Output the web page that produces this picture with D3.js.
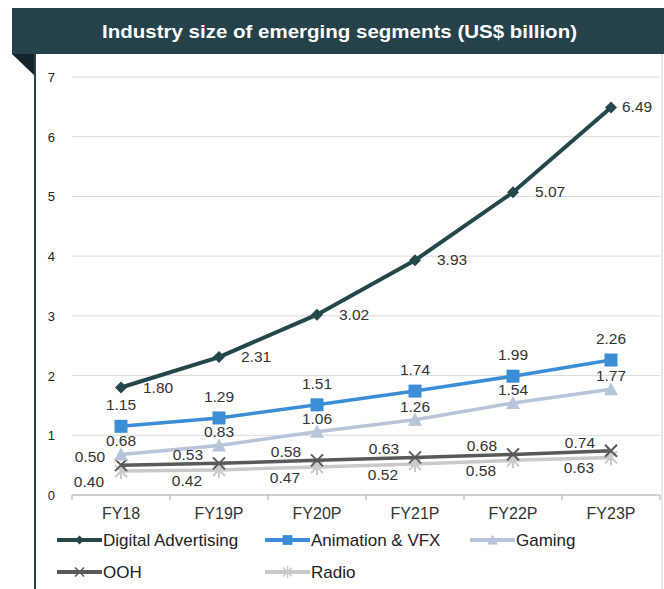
<!DOCTYPE html>
<html>
<head>
<meta charset="utf-8">
<script src="https://cdn.jsdelivr.net/npm/d3@7"></script>
<style>
  body { margin: 0; background: #fff; }
  svg { display: block; font-family: Arial, "Liberation Sans", sans-serif; }
</style>
</head>
<body>
<svg id="chart" width="664" height="589"></svg>
<script>
'use strict';

// Chart data
const years = ['FY18', 'FY19P', 'FY20P', 'FY21P', 'FY22P', 'FY23P'];
const digitalAdvertising = [1.80, 2.31, 3.02, 3.93, 5.07, 6.49];
const animationVfx = [1.15, 1.29, 1.51, 1.74, 1.99, 2.26];
const gaming = [0.68, 0.83, 1.06, 1.26, 1.54, 1.77];
const ooh = [0.50, 0.53, 0.58, 0.63, 0.68, 0.74];
const radio = [0.40, 0.42, 0.47, 0.52, 0.58, 0.63];
const yTicks = [0, 1, 2, 3, 4, 5, 6, 7];

const series = [
    { name: 'Radio', values: radio, color: '#c9c9c9', marker: 'star', label: 'leftBelow' },
    { name: 'OOH', values: ooh, color: '#595959', marker: 'cross', label: 'leftAbove' },
    { name: 'Gaming', values: gaming, color: '#b7c4d9', marker: 'triangle', label: 'above' },
    { name: 'Animation & VFX', values: animationVfx, color: '#3b8ed6', marker: 'square', label: 'aboveHigh' },
    { name: 'Digital Advertising', values: digitalAdvertising, color: '#24474b', marker: 'diamond', label: 'right' }
];

const svg = d3.select('#chart');

// Title band with folded corner
svg.append('rect')
    .attr('x', 12).attr('y', 8).attr('width', 652).attr('height', 46)
    .attr('fill', '#25414a');
svg.append('path')
    .attr('d', 'M12,54 L35,54 L35,76 Z')
    .attr('fill', '#13242a');
svg.append('text')
    .attr('x', 102).attr('y', 38)
    .attr('fill', '#fff')
    .attr('font-weight', 'bold')
    .attr('font-size', 18)
    .attr('textLength', 475)
    .attr('lengthAdjust', 'spacingAndGlyphs')
    .text('Industry size of emerging segments (US$ billion)');

// Panel border
svg.append('line')
    .attr('x1', 35).attr('x2', 35).attr('y1', 54).attr('y2', 589)
    .attr('stroke', '#2f4149').attr('stroke-width', 2);
svg.append('line')
    .attr('x1', 662).attr('x2', 662).attr('y1', 54).attr('y2', 589)
    .attr('stroke', '#d0d0d0').attr('stroke-width', 1);

// Scales
const x = d3.scaleBand().domain(years).range([72, 660]).padding(0);
const y = d3.scaleLinear().domain([0, 7]).range([495, 77]);
const cx = d => x(d) + x.bandwidth() / 2;

// Gridlines
svg.append('g')
    .selectAll('line')
    .data(yTicks.filter(t => t > 0))
    .join('line')
    .attr('x1', 72).attr('x2', 660)
    .attr('y1', d => y(d)).attr('y2', d => y(d))
    .attr('stroke', '#dadada').attr('stroke-width', 1);

// Y axis labels
svg.append('g')
    .selectAll('text')
    .data(yTicks)
    .join('text')
    .attr('x', 55).attr('y', d => y(d) + 5)
    .attr('text-anchor', 'end')
    .attr('font-size', 13)
    .attr('fill', '#222')
    .text(d => d);

// X axis
const xAxis = svg.append('g');
xAxis.append('line')
    .attr('x1', 72).attr('x2', 660).attr('y1', 495).attr('y2', 495)
    .attr('stroke', '#a6a6a6').attr('stroke-width', 1);
xAxis.selectAll('line.tick')
    .data(years.map(d => x(d)).concat([x.range()[1]]))
    .join('line')
    .attr('class', 'tick')
    .attr('x1', d => d).attr('x2', d => d)
    .attr('y1', 495).attr('y2', 500)
    .attr('stroke', '#a6a6a6');
xAxis.selectAll('text')
    .data(years)
    .join('text')
    .attr('x', d => cx(d)).attr('y', 519)
    .attr('text-anchor', 'middle')
    .attr('font-size', 16)
    .attr('fill', '#333')
    .text(d => d);

// Marker drawing
function drawMarker(g, type, color) {
    if (type === 'diamond') {
        g.append('path').attr('d', 'M0,-6 L6,0 L0,6 L-6,0 Z').attr('fill', color);
    } else if (type === 'square') {
        g.append('rect').attr('x', -6.5).attr('y', -6.5).attr('width', 13).attr('height', 13).attr('fill', color);
    } else if (type === 'triangle') {
        g.append('path').attr('d', 'M0,-7 L7,6 L-7,6 Z').attr('fill', color);
    } else if (type === 'cross') {
        g.append('path').attr('d', 'M-6,-6 L6,6 M-6,6 L6,-6')
            .attr('stroke', color).attr('stroke-width', 2);
    } else if (type === 'star') {
        g.append('path').attr('d', 'M-6,-6 L6,6 M-6,6 L6,-6 M0,-8 L0,8')
            .attr('stroke', color).attr('stroke-width', 2);
    }
}

const line = d3.line()
    .x((d, i) => cx(years[i]))
    .y(d => y(d));

series.forEach(s => {
    const g = svg.append('g');
    g.append('path')
        .datum(s.values)
        .attr('d', line)
        .attr('fill', 'none')
        .attr('stroke', s.color)
        .attr('stroke-width', s.marker === 'diamond' ? 4 : 3.5);

    s.values.forEach((v, i) => {
        const m = g.append('g').attr('transform', `translate(${cx(years[i])},${y(v)})`);
        drawMarker(m, s.marker, s.color);
    });
});

// Value labels
series.forEach(s => {
    s.values.forEach((v, i) => {
        const px = cx(years[i]);
        const py = y(v);
        let tx = px, ty = py, anchor = 'middle';
        if (s.label === 'right') {
            tx = px + (i === s.values.length - 1 ? 11 : 22);
            ty = py + 5;
            anchor = 'start';
        } else if (s.label === 'aboveHigh') {
            ty = py - 16;
        } else if (s.label === 'above') {
            ty = py - 8;
        } else if (s.label === 'leftAbove') {
            tx = px - 16;
            ty = py - 3;
            anchor = 'end';
        } else if (s.label === 'leftBelow') {
            tx = px - 17;
            ty = py + 16;
            anchor = 'end';
        }
        svg.append('text')
            .attr('x', tx).attr('y', ty)
            .attr('text-anchor', anchor)
            .attr('font-size', 15.5)
            .attr('fill', '#333')
            .text(v.toFixed(2));
    });
});

// Legend
const legendItems = [
    { s: series[4], x: 57, y: 540 },
    { s: series[3], x: 265, y: 540 },
    { s: series[2], x: 470, y: 540 },
    { s: series[1], x: 57, y: 572 },
    { s: series[0], x: 265, y: 572 }
];
legendItems.forEach(item => {
    const g = svg.append('g').attr('transform', `translate(${item.x},${item.y})`);
    g.append('line')
        .attr('x1', 0).attr('x2', 45).attr('y1', 0).attr('y2', 0)
        .attr('stroke', item.s.color).attr('stroke-width', 4);
    const m = g.append('g').attr('transform', 'translate(22.5,0) scale(0.75)');
    drawMarker(m, item.s.marker, item.s.color);
    g.append('text')
        .attr('x', 46).attr('y', 6)
        .attr('font-size', 17)
        .attr('fill', '#222')
        .text(item.s.name);
});
</script>
</body>
</html>
